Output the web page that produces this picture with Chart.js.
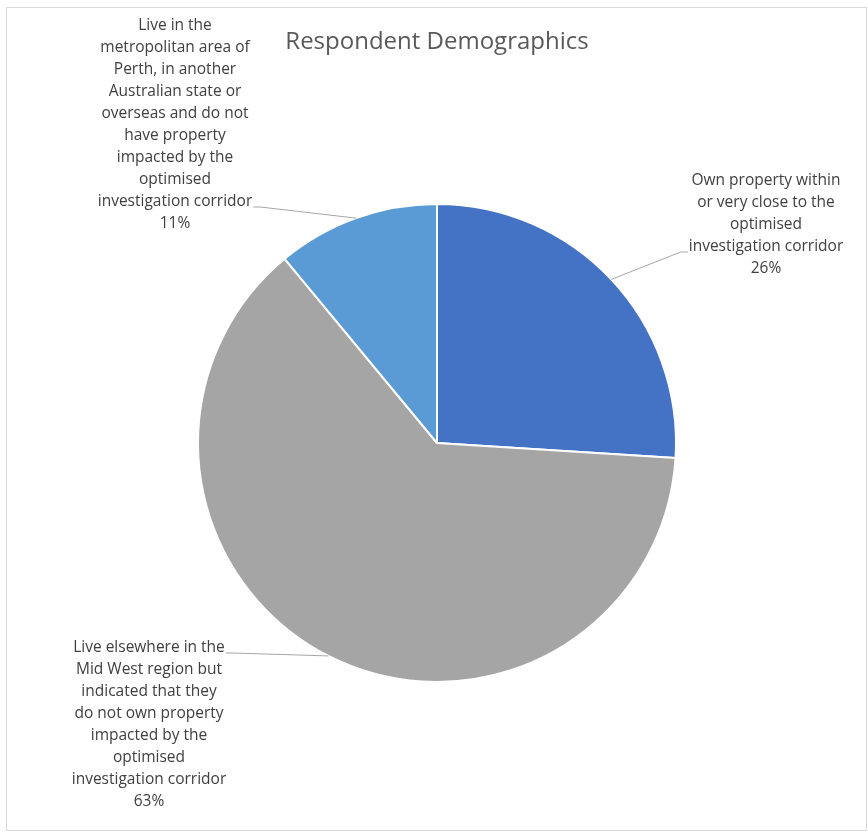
<!DOCTYPE html>
<html>
<head>
<meta charset="utf-8">
<title>Respondent Demographics</title>
<script src="https://cdn.jsdelivr.net/npm/chart.js@4.4.0/dist/chart.umd.min.js"></script>
<style>
    html, body
    {
        margin: 0;
        padding: 0;
        background: #ffffff;
    }
    canvas
    {
        display: block;
    }
</style>
</head>
<body>
<canvas id="chartPicture" width="868" height="832"></canvas>
<script>
// respondent groups, in the order they are drawn clockwise from 12 o'clock
const groupNames = [
    "Own property within or very close to the optimised investigation corridor",
    "Live elsewhere in the Mid West region but indicated that they do not own property impacted by the optimised investigation corridor",
    "Live in the metropolitan area of Perth, in another Australian state or overseas and do not have property impacted by the optimised investigation corridor",
];
const groupLabelLines = [
    ["Own property within", "or very close to the", "optimised", "investigation corridor"],
    ["Live elsewhere in the", "Mid West region but", "indicated that they", "do not own property", "impacted by the", "optimised", "investigation corridor"],
    ["Live in the", "metropolitan area of", "Perth, in another", "Australian state or", "overseas and do not", "have property", "impacted by the", "optimised", "investigation corridor"],
];
const groupPercent = [26, 63, 11];
const groupColors = ["#4472C4", "#A5A5A5", "#5B9BD5"];

// where each label block sits and which line its leader starts from
const labelPlacement = [
    { centerX: 766, firstLineY: 181, leaderLine: 3, side: "left" },
    { centerX: 149, firstLineY: 648, leaderLine: 0, side: "right" },
    { centerX: 175, firstLineY: 26, leaderLine: 8, side: "right" },
];

const lineHeight = 22;
const labelFont = "15.5px 'Open Sans', sans-serif";
const titleFont = "24px 'Open Sans', sans-serif";

const context = document.getElementById("chartPicture");

const outsideLabels =
{
    id: "outsideLabels",
    afterDraw(chart)
    {
        const ctx = chart.ctx;
        ctx.save();

        // outer frame
        ctx.strokeStyle = "#d9d9d9";
        ctx.lineWidth = 1;
        ctx.strokeRect(6.5, 7.5, 860, 823);

        // title
        ctx.fillStyle = "#595959";
        ctx.font = titleFont;
        ctx.textAlign = "center";
        ctx.textBaseline = "alphabetic";
        ctx.fillText("Respondent Demographics", 437, 49);

        const meta = chart.getDatasetMeta(0);
        ctx.font = labelFont;
        ctx.textBaseline = "middle";
        meta.data.forEach((arc, index) =>
        {
            const props = arc.getProps(["x", "y", "startAngle", "endAngle", "outerRadius"], true);
            const midAngle = (props.startAngle + props.endAngle) / 2;
            const edgeX = props.x + Math.cos(midAngle) * props.outerRadius;
            const edgeY = props.y + Math.sin(midAngle) * props.outerRadius;

            const place = labelPlacement[index];
            const lines = groupLabelLines[index].concat([`${groupPercent[index]}%`]);

            ctx.fillStyle = "#404040";
            ctx.textAlign = "center";
            lines.forEach((line, lineIndex) =>
            {
                ctx.fillText(line, place.centerX, place.firstLineY + lineIndex * lineHeight);
            });

            // leader line from the label to the middle of the slice edge
            const leaderText = lines[place.leaderLine];
            const halfWidth = ctx.measureText(leaderText).width / 2;
            const leaderY = place.firstLineY + place.leaderLine * lineHeight + 5;
            let startX = 0;
            let bendX = 0;
            if(place.side === "left")
            {
                startX = place.centerX - halfWidth - 1;
                bendX = startX - 7;
            }
            else
            {
                startX = place.centerX + halfWidth + 1;
                bendX = startX + 7;
            }
            ctx.strokeStyle = "#a6a6a6";
            ctx.lineWidth = 1;
            ctx.beginPath();
            ctx.moveTo(startX, leaderY);
            ctx.lineTo(bendX, leaderY);
            ctx.lineTo(edgeX, edgeY);
            ctx.stroke();
        });

        ctx.restore();
    }
};

const configObject =
{
    type: "pie",
    data:
    {
        labels: groupNames,
        datasets:
        [
            {
                label: "Respondent Demographics",
                data: groupPercent,
                backgroundColor: groupColors,
                borderColor: "#ffffff",
                borderWidth: 2,
                hoverOffset: 0,
            }
        ],
    },
    options:
    {
        responsive: false,
        animation: false,
        layout:
        {
            padding:
            {
                left: 197,
                right: 191,
                top: 203,
                bottom: 149,
            }
        },
        plugins:
        {
            legend: { display: false },
            title: { display: false },
            tooltip: { enabled: false },
        }
    },
    plugins: [outsideLabels],
};

const myChart = new Chart(context, configObject);
</script>
</body>
</html>
